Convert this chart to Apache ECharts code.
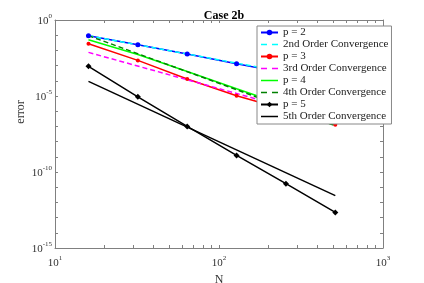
<!DOCTYPE html>
<html>
<head>
<meta charset="utf-8">
<script src="https://cdn.jsdelivr.net/npm/echarts@6/dist/echarts.min.js"></script>
<style>html,body{margin:0;padding:0;background:#fff;}#c{width:424px;height:283px;}</style>
</head>
<body>
<div id="c"></div>
<script>
var titleText = 'Case 2b';
var xName = 'N';
var yName = 'error';
var N = [16, 32, 64, 128, 256, 512];
var p2 = [0.093, 0.0237, 0.00575, 0.00132, 3.2e-4, 7.6e-5];
var p3 = [0.0275, 0.0022, 1.32e-4, 1.05e-5, 1.26e-6, 1.3e-7];
var p4 = [0.05, 5.4e-3, 4.1e-4, 3.0e-5, 2.3e-6, 1.7e-7];
var p5 = [8.9e-4, 8.9e-6, 1.0e-7, 1.24e-9, 1.7e-11, 2.2e-13];
var refN = [16, 512];
var ord2 = [0.093, 9.1e-5];
var ord3 = [7.4e-3, 2.3e-7];
var ord4 = [0.093, 1.1e-7];
var ord5 = [9.1e-5, 2.8e-12];
var names = ['p = 2', '2nd Order Convergence', 'p = 3', '3rd Order Convergence', 'p = 4', '4th Order Convergence', 'p = 5', '5th Order Convergence'];
var xMajor = [10, 100, 1000];
var xMinor = [10, 20, 30, 40, 50, 60, 70, 80, 90, 100, 200, 300, 400, 500, 600, 700, 800, 900, 1000];
var yMajor = [1, 1e-5, 1e-10, 1e-15];
var yMinor = [1, 1e-1, 1e-2, 1e-3, 1e-4, 1e-5, 1e-6, 1e-7, 1e-8, 1e-9, 1e-10, 1e-11, 1e-12, 1e-13, 1e-14, 1e-15];

function pairs(xs, ys) { return xs.map(function (x, i) { return [x, ys[i]]; }); }
var FONT = '"Liberation Serif", "DejaVu Serif", serif';
var AX = '#808080';
var SOLID_ICON = 'path://M0,0H17V1.5H0Z';
var DASH_ICON = 'path://M0,0H6V1.5H0Z M11,0H17V1.5H11Z';
function fmt(v) {
  var e = Math.round(Math.log10(v));
  return '{b|10}{s|' + e + '}';
}
var rich = {
  b: { fontFamily: FONT, fontSize: 11, color: '#333', verticalAlign: 'bottom', lineHeight: 14 },
  s: { fontFamily: FONT, fontSize: 7, color: '#333', verticalAlign: 'top', lineHeight: 14, padding: [0, 0, 6, 0] }
};
function xAx(pos, show) {
  return {
    type: 'log', logBase: 10, min: 10, max: 1000, position: pos, gridIndex: 0,
    name: show ? xName : '', nameLocation: 'middle', nameGap: 19,
    nameTextStyle: { fontFamily: FONT, fontSize: 12, color: '#333' },
    axisLine: { show: true, lineStyle: { color: AX, width: 1 } },
    axisTick: { show: true, inside: true, length: 3, customValues: xMinor, lineStyle: { color: AX } },
    axisLabel: { show: show, customValues: xMajor, formatter: fmt, rich: rich, margin: 7 },
    splitLine: { show: false }
  };
}
function yAx(pos, show) {
  return {
    type: 'log', logBase: 10, min: 1e-15, max: 1, position: pos, gridIndex: 0,
    axisLine: { show: true, lineStyle: { color: AX, width: 1 } },
    axisTick: { show: true, inside: true, length: 3, customValues: yMinor, lineStyle: { color: AX } },
    axisLabel: { show: show, customValues: yMajor, formatter: fmt, rich: rich, margin: 3 },
    splitLine: { show: false }
  };
}
function ser(name, xs, ys, color, dashed, symbol, size) {
  return {
    name: name, type: 'line', data: pairs(xs, ys), xAxisIndex: 0, yAxisIndex: 0,
    symbol: symbol || 'none', symbolSize: size || 0, showSymbol: !!symbol,
    itemStyle: { color: color, borderWidth: 0 },
    lineStyle: { color: color, width: 1.5, type: dashed ? [5, 3] : 'solid' },
    emphasis: { disabled: true }, animation: false, z: 2
  };
}
var chart = echarts.init(document.getElementById('c'), null, { renderer: 'canvas' });
chart.setOption({
  backgroundColor: '#fff',
  animation: false,
  title: { text: titleText, left: 219, top: 5, textAlign: 'center',
    textStyle: { fontFamily: FONT, fontSize: 12, fontWeight: 'bold', color: '#000' } },
  grid: { left: 55, top: 20, right: 41, bottom: 35, containLabel: false, outerBoundsMode: 'none' },
  xAxis: [xAx('bottom', true), xAx('top', false)],
  yAxis: [yAx('left', true), yAx('right', false)],
  legend: {
    orient: 'vertical', left: 257, top: 26, width: 122,
    backgroundColor: '#fff', borderColor: '#888', borderWidth: 1,
    padding: [1, 3, 2, 3], itemGap: 1, itemWidth: 17, itemHeight: 7,
    textStyle: { fontFamily: FONT, fontSize: 11, color: '#222', lineHeight: 11 },
    data: [
      { name: names[0] },
      { name: names[1], icon: DASH_ICON },
      { name: names[2] },
      { name: names[3], icon: DASH_ICON },
      { name: names[4], icon: SOLID_ICON },
      { name: names[5], icon: DASH_ICON },
      { name: names[6] },
      { name: names[7], icon: SOLID_ICON }
    ]
  },
  graphic: [{
    type: 'text', x: 21, y: 112, rotation: Math.PI / 2,
    style: { text: yName, fontFamily: FONT, fontSize: 12, fill: '#333', align: 'center', verticalAlign: 'middle' }
  }],
  series: [
    ser(names[0], N, p2, '#0000ff', false, 'circle', 5),
    ser(names[1], refN, ord2, '#00ffff', true),
    ser(names[2], N, p3, '#ff0000', false, 'circle', 4),
    ser(names[3], refN, ord3, '#ff00ff', true),
    ser(names[4], N, p4, '#00ff00', false),
    ser(names[5], refN, ord4, '#008000', true),
    ser(names[6], N, p5, '#000000', false, 'diamond', 6),
    ser(names[7], refN, ord5, '#000000', false)
  ]
});
</script>
</body>
</html>
